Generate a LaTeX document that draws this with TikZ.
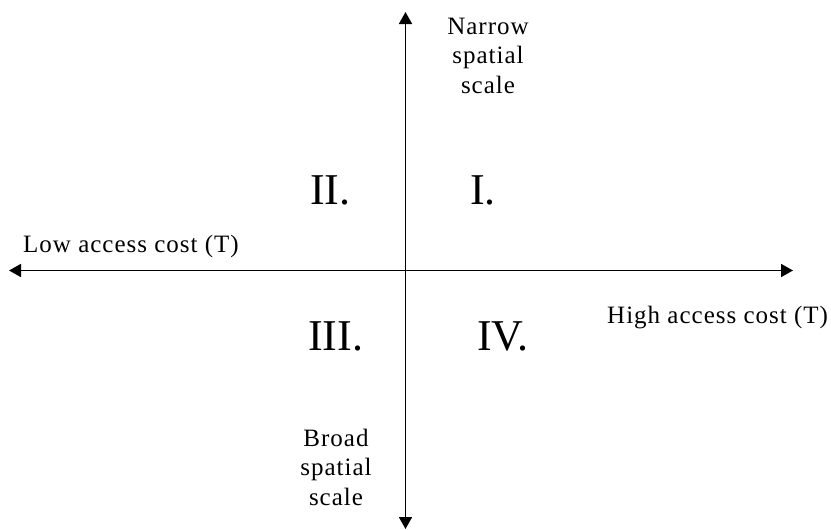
\documentclass[tikz,border=0pt]{standalone}
\usepackage{fontspec}
\setmainfont{Liberation Serif}
\usetikzlibrary{arrows.meta}
\begin{document}
\begin{tikzpicture}[x=1pt,y=-1pt,
  axis/.style={line width=1.8pt,{Triangle[length=12pt,width=13pt]}-{Triangle[length=12pt,width=13pt]}},
  lbl/.style={inner sep=0pt,font=\addfontfeatures{LetterSpace=4}\fontsize{25}{29.5}\selectfont,align=center},
  quad/.style={inner sep=0pt,font=\fontsize{44}{48}\selectfont}]
\useasboundingbox (0,0) rectangle (831,530);
\coordinate (T) at (405.5,12);
\coordinate (B) at (405.5,529);
\coordinate (L) at (9,270.5);
\coordinate (R) at (793,270.5);
\draw[axis] (T) -- (B);
\draw[axis] (L) -- (R);
\node[lbl,anchor=base] (narrow) at (488,93) {Narrow\\spatial\\scale};
\node[lbl,anchor=base] (broad) at (336,505) {Broad\\spatial\\scale};
\node[lbl,anchor=base west] (low) at (23,252) {Low access cost (T)};
\node[lbl,anchor=base west] (high) at (607,323) {High access cost (T)};
\node[quad,anchor=base west] (q2) at (310,204) {II.};
\node[quad,anchor=base west] (q1) at (470,204) {I.};
\node[quad,anchor=base west] (q3) at (308,350) {III.};
\node[quad,anchor=base west] (q4) at (477,350) {IV.};
\end{tikzpicture}
\end{document}
